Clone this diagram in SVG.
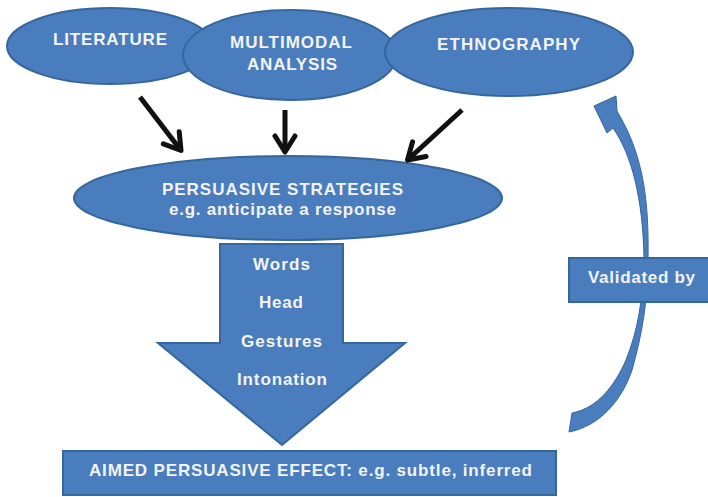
<svg xmlns="http://www.w3.org/2000/svg" width="708" height="497" viewBox="0 0 708 497">
<defs>
<style>
.shape{fill:#4a7dbd;stroke:#35669d;stroke-width:2}
.t{font-family:"Liberation Sans",Arial,sans-serif;font-weight:bold;font-size:17px;fill:#f3f3f3;text-anchor:middle}
.conn{stroke:#111;stroke-width:5;fill:none}
</style>
<marker id="ah" viewBox="-24 -14 30 28" refX="0" refY="0" markerWidth="30" markerHeight="28" markerUnits="userSpaceOnUse" orient="auto">
<path d="M-16,-10 L0,0 L-16,10" fill="none" stroke="#111" stroke-width="5" stroke-linejoin="round" stroke-linecap="round"/>
</marker>
</defs>
<rect width="708" height="497" fill="#fff"/>

<g id="literature">
<ellipse class="shape" cx="110" cy="46" rx="103" ry="38"/>
<text class="t" x="110" y="45" textLength="114">LITERATURE</text>
</g>
<g id="multimodal">
<ellipse class="shape" cx="290" cy="55" rx="107" ry="45"/>
<text class="t" x="291" y="48" textLength="122">MULTIMODAL</text>
<text class="t" x="292" y="70" textLength="90">ANALYSIS</text>
</g>
<g id="ethnography">
<ellipse class="shape" cx="509" cy="52" rx="124" ry="44"/>
<text class="t" x="508.5" y="50" textLength="143">ETHNOGRAPHY</text>
</g>

<g id="strategies">
<ellipse class="shape" cx="288" cy="198" rx="214" ry="42"/>
<text class="t" x="282.5" y="195" textLength="241">PERSUASIVE STRATEGIES</text>
<text class="t" x="282.5" y="215" textLength="227">e.g. anticipate a response</text>
</g>

<g id="channels">
<path class="shape" d="M220,244 L343,244 L343,343 L405,343 L282,445 L158,343 L220,343 Z"/>
<text class="t" x="281.5" y="270" textLength="57">Words</text>
<text class="t" x="281" y="308" textLength="44">Head</text>
<text class="t" x="281.5" y="347" textLength="81">Gestures</text>
<text class="t" x="282" y="385" textLength="90">Intonation</text>
</g>

<g id="effect">
<rect class="shape" x="63" y="451" width="493" height="44"/>
<text class="t" x="310.5" y="476" textLength="443">AIMED PERSUASIVE EFFECT: e.g. subtle, inferred</text>
</g>

<g id="connectors">
<line class="conn" x1="140" y1="97" x2="181" y2="150.5" marker-end="url(#ah)"/>
<line class="conn" x1="285" y1="110" x2="285" y2="152" marker-end="url(#ah)"/>
<line class="conn" x1="462" y1="110" x2="407.5" y2="160" marker-end="url(#ah)"/>
<path id="feedback" fill="#4a7dbd" stroke="#35669d" stroke-width="1" d="M569,432 C600,426 622,400 632,370 C642,335 648,300 648,258 C649,205 644,160 622,120 L617,111 L616,96 L594,106 L607,133 L613,128 C632,155 643,200 644,258 C643,300 638,330 626,360 C615,385 598,408 572,413 Z"/>
</g>

<g id="validated">
<rect class="shape" x="569" y="258" width="145" height="44"/>
<text class="t" x="641.5" y="283" textLength="107">Validated by</text>
</g>
</svg>
